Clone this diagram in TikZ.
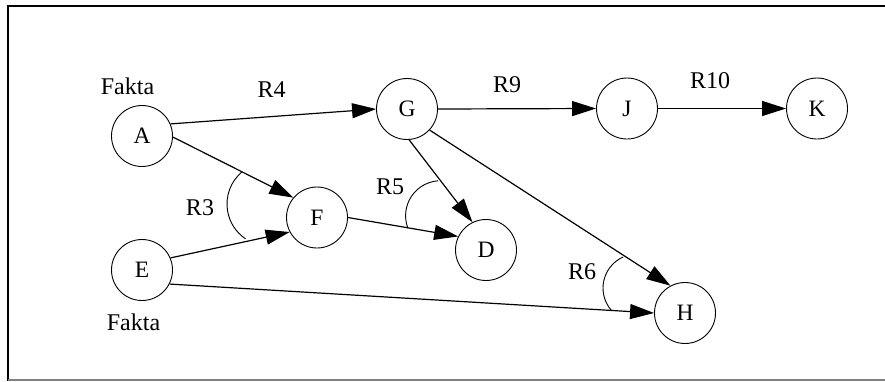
\documentclass[tikz,border=0pt]{standalone}
\usepackage{fontspec}
\setmainfont{Liberation Serif}
\usetikzlibrary{arrows.meta}
\begin{document}
\begin{tikzpicture}[x=1pt,y=1pt,
  state/.style={circle,draw,line width=0.9pt,minimum size=61pt,inner sep=0pt,font=\fontsize{23.5}{25}\selectfont},
  lbl/.style={font=\fontsize{24}{26}\selectfont,inner sep=0pt},
  edge/.style={line width=1.2pt,-{Triangle[length=24pt,width=15pt]}},
  andarc/.style={line width=0.9pt}]
\useasboundingbox (0,0) rectangle (885,-381);
\fill[white] (0,0) rectangle (885,-381);
% frame
\draw[line width=2.5pt] (7,-6.2) -- (885,-6.2);
\draw[line width=1.5pt] (8.2,-6) -- (8.2,-381);
\draw[gray,line width=1.5pt] (8,-380) -- (885,-380);
% nodes
\node[state] (A) at (142,-136) {A};
\node[state] (E) at (142,-270) {E};
\node[state] (F) at (317,-217.5) {F};
\node[state] (G) at (407,-109) {G};
\node[state] (D) at (486,-250) {D};
\node[state] (H) at (685,-313) {H};
\node[state] (J) at (627,-108.5) {J};
\node[state] (K) at (817,-108.5) {K};
% labels
\node[lbl] (fa1) at (127.5,-86) {Fakta};
\node[lbl] (fa2) at (133.5,-322) {Fakta};
\node[lbl] (r4) at (271.5,-90) {R4};
\node[lbl] (r3) at (200,-208) {R3};
\node[lbl] (r5) at (390,-187) {R5};
\node[lbl] (r6) at (582,-272) {R6};
\node[lbl] (r9) at (507,-85) {R9};
\node[lbl] (r10) at (710,-81) {R10};
% connectors
\draw[edge] (A.23) -- (G.west);
\draw[edge] (A.-2) -- (F.140);
\draw[edge] (E.23) -- (F.208);
\draw[edge] (E.-27) -- (H.west);
\draw[edge] (F.east) -- (D.154);
\draw[edge] (G.-86) -- (D.116);
\draw[edge] (G.-43) -- (H.118);
\draw[edge] (G.east) -- (J.west);
\draw[edge] (J.east) -- (K.west);
% rule arcs
\coordinate (c3) at (269,-204);
\coordinate (c5) at (440.6,-215.7);
\coordinate (c6) at (637,-288);
\draw[andarc] (c3) ++(130:42) arc[start angle=130,end angle=236,radius=42];
\draw[andarc] (c5) ++(94:35) arc[start angle=94,end angle=201,radius=35];
\draw[andarc] (c6) ++(114:34) arc[start angle=114,end angle=221,radius=34];
\end{tikzpicture}
\end{document}
